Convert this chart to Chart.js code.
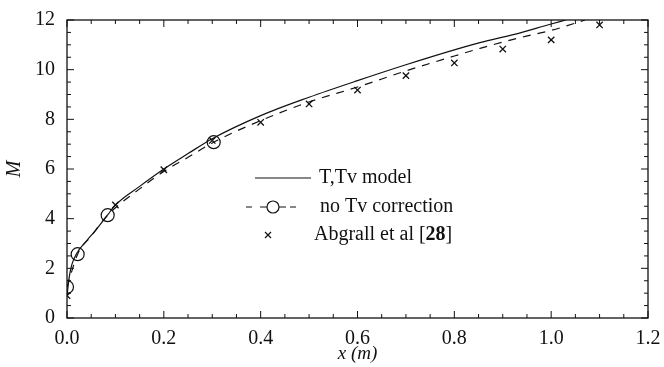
<!DOCTYPE html>
<html>
<head>
<meta charset="utf-8">
<script src="https://cdn.jsdelivr.net/npm/chart.js@4/dist/chart.umd.min.js"></script>
<style>
  html, body { margin: 0; padding: 0; background: #fff; }
  #wrap { width: 664px; height: 367px; }
</style>
</head>
<body>
<div id="wrap"><canvas id="myChart" width="664" height="367"></canvas></div>
<script>
// T,Tv model (solid line)
var modelX = [0, 0.005, 0.01, 0.02, 0.04, 0.06, 0.084, 0.1, 0.15, 0.2, 0.25, 0.3, 0.4, 0.5, 0.6, 0.7, 0.8, 0.855, 0.924, 1.0, 1.03];
var modelM = [0.9, 1.7, 2.15, 2.6, 3.1, 3.55, 4.15, 4.55, 5.3, 6.0, 6.62, 7.22, 8.15, 8.89, 9.56, 10.2, 10.8, 11.1, 11.42, 11.84, 12.0];

// no Tv correction (dashed line, circles on a few points)
var noCorrX = [0, 0.022, 0.05, 0.084, 0.15, 0.2, 0.25, 0.303, 0.4, 0.5, 0.6, 0.7, 0.8, 0.855, 0.938, 1.0, 1.028, 1.07];
var noCorrM = [1.25, 2.57, 3.3, 4.14, 5.2, 5.9, 6.47, 7.08, 7.95, 8.7, 9.3, 9.95, 10.55, 10.87, 11.3, 11.58, 11.74, 12.0];
var circleX = [0, 0.022, 0.084, 0.303];

// Abgrall et al [28]
var abgX = [0, 0.1, 0.2, 0.3, 0.4, 0.5, 0.6, 0.7, 0.8, 0.9, 1.0, 1.1];
var abgM = [0.9, 4.55, 5.97, 7.15, 7.88, 8.62, 9.18, 9.76, 10.27, 10.83, 11.2, 11.8];

var xTicks = [0, 0.2, 0.4, 0.6, 0.8, 1.0, 1.2];
var yTicks = [0, 2, 4, 6, 8, 10, 12];

function pts(xs, ys) {
  return xs.map(function (x, i) { return { x: x, y: ys[i] }; });
}

var ink = '#111';
var serif = "'Liberation Serif', 'DejaVu Serif', serif";

// box around the plot with inward ticks on all four sides
var frameTicks = {
  id: 'frameTicks',
  afterDraw: function (chart) {
    var ctx = chart.ctx, a = chart.chartArea;
    var sx = chart.scales.x, sy = chart.scales.y;
    ctx.save();
    ctx.strokeStyle = ink;
    ctx.lineWidth = 1.3;
    ctx.strokeRect(a.left, a.top, a.right - a.left, a.bottom - a.top);
    ctx.lineWidth = 1;
    ctx.beginPath();
    for (var i = 0; i <= 24; i++) {
      var len = i % 4 === 0 ? 7 : 4;
      var px = sx.getPixelForValue(i * 0.05);
      ctx.moveTo(px, a.bottom); ctx.lineTo(px, a.bottom - len);
      ctx.moveTo(px, a.top); ctx.lineTo(px, a.top + len);
      var py = sy.getPixelForValue(i * 0.5);
      ctx.moveTo(a.left, py); ctx.lineTo(a.left + len, py);
      ctx.moveTo(a.right, py); ctx.lineTo(a.right - len, py);
    }
    ctx.stroke();
    ctx.restore();
  }
};

// legend inside the plot
var legendBox = {
  id: 'legendBox',
  afterDraw: function (chart) {
    var ctx = chart.ctx;
    ctx.save();
    ctx.strokeStyle = ink;
    ctx.fillStyle = ink;
    ctx.lineWidth = 1.2;
    ctx.textBaseline = 'middle';
    ctx.font = '20px ' + serif;

    // row 1
    ctx.beginPath();
    ctx.moveTo(255, 178); ctx.lineTo(311, 178);
    ctx.stroke();
    ctx.fillText('T,Tv model', 319, 178);

    // row 2
    ctx.beginPath();
    ctx.moveTo(246, 207); ctx.lineTo(252, 207);
    ctx.moveTo(260, 207); ctx.lineTo(267, 207);
    ctx.moveTo(279, 207); ctx.lineTo(286, 207);
    ctx.moveTo(290, 207); ctx.lineTo(296, 207);
    ctx.stroke();
    ctx.beginPath();
    ctx.arc(273, 207, 6, 0, Math.PI * 2);
    ctx.stroke();
    ctx.fillText('no Tv correction', 320, 207);

    // row 3
    ctx.beginPath();
    ctx.moveTo(265, 232); ctx.lineTo(271, 238);
    ctx.moveTo(271, 232); ctx.lineTo(265, 238);
    ctx.stroke();
    var t = 'Abgrall et al [';
    ctx.fillText(t, 314, 235);
    var w = ctx.measureText(t).width;
    ctx.font = 'bold 20px ' + serif;
    ctx.fillText('28', 314 + w, 235);
    var w2 = ctx.measureText('28').width;
    ctx.font = '20px ' + serif;
    ctx.fillText(']', 314 + w + w2, 235);
    ctx.restore();
  }
};

var ctx = document.getElementById('myChart').getContext('2d');

var myChart = new Chart(ctx, {
  type: 'scatter',
  data: {
    datasets: [
      {
        label: 'T,Tv model',
        data: pts(modelX, modelM),
        showLine: true,
        borderColor: ink,
        borderWidth: 1.2,
        pointRadius: 0,
        cubicInterpolationMode: 'monotone'
      },
      {
        label: 'no Tv correction',
        data: pts(noCorrX, noCorrM),
        showLine: true,
        borderColor: ink,
        borderWidth: 1.2,
        borderDash: [8, 7],
        cubicInterpolationMode: 'monotone',
        pointStyle: 'circle',
        backgroundColor: 'rgba(0,0,0,0)',
        pointBorderColor: ink,
        pointBorderWidth: 1.2,
        pointRadius: function (c) {
          var p = c.raw;
          return p && circleX.indexOf(p.x) >= 0 ? 6.5 : 0;
        }
      },
      {
        label: 'Abgrall et al [28]',
        data: pts(abgX, abgM),
        showLine: false,
        pointStyle: 'crossRot',
        pointRadius: 4.5,
        borderColor: ink,
        pointBorderWidth: 1.3
      }
    ]
  },
  options: {
    responsive: false,
    animation: false,
    layout: { padding: { top: 20, right: 16, left: 0, bottom: 0 } },
    plugins: {
      legend: { display: false },
      tooltip: { enabled: false }
    },
    scales: {
      x: {
        type: 'linear',
        min: 0,
        max: 1.2,
        afterFit: function (s) { s.height = 49; s.paddingLeft = 0; s.paddingRight = 0; },
        afterBuildTicks: function (s) { s.ticks = xTicks.map(function (v) { return { value: v }; }); },
        grid: { display: false, drawTicks: false },
        border: { display: false },
        ticks: {
          padding: 9,
          color: ink,
          font: { family: serif, size: 20 },
          callback: function (v) { return Number(v).toFixed(1); }
        },
        title: {
          display: true,
          text: 'x (m)',
          color: ink,
          padding: { top: 0, bottom: 2 },
          font: { family: serif, size: 19, style: 'italic' }
        }
      },
      y: {
        min: 0,
        max: 12,
        afterFit: function (s) { s.width = 67; s.paddingTop = 0; s.paddingBottom = 0; },
        afterBuildTicks: function (s) { s.ticks = yTicks.map(function (v) { return { value: v }; }); },
        grid: { display: false, drawTicks: false },
        border: { display: false },
        ticks: {
          padding: 12,
          color: ink,
          font: { family: serif, size: 20 }
        },
        title: {
          display: true,
          text: 'M',
          color: ink,
          padding: { top: 3, bottom: 0 },
          font: { family: serif, size: 20, style: 'italic' }
        }
      }
    }
  },
  plugins: [frameTicks, legendBox]
});
</script>
</body>
</html>
